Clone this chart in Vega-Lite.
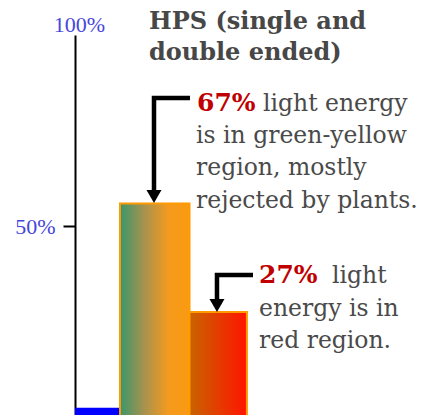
{
  "$schema": "https://vega.github.io/schema/vega-lite/v6.json",
  "width": 348,
  "height": 382,
  "autosize": "none",
  "padding": {"left": 75, "top": 35, "right": 0, "bottom": 0},
  "background": "white",
  "view": {"stroke": null},
  "config": {"text": {"font": "DejaVu Serif"}},
  "datasets": {
    "bars": [
      {"band": "blue", "x0": 0, "x1": 12.93, "pct": 2.4},
      {"band": "green-yellow", "x0": 12.93, "x1": 32.9, "pct": 55.9},
      {"band": "red", "x0": 32.9, "x1": 49.4, "pct": 27.5}
    ],
    "arrows": [
      {"arrow": "a1", "i": 0, "x": 33.05, "y": 83.5},
      {"arrow": "a1", "i": 1, "x": 22.7, "y": 83.5},
      {"arrow": "a1", "i": 2, "x": 22.7, "y": 59.4},
      {"arrow": "a2", "i": 0, "x": 51.15, "y": 37.17},
      {"arrow": "a2", "i": 1, "x": 40.8, "y": 37.17},
      {"arrow": "a2", "i": 2, "x": 40.8, "y": 30.6}
    ],
    "heads": [
      {"arrow": "a1", "x": 22.7, "y": 57.7},
      {"arrow": "a2", "x": 40.8, "y": 29.2}
    ],
    "titles": [
      {"t": "HPS (single and\ndouble ended)", "x": 21.26, "y": 101.6}
    ],
    "pcts": [
      {"t": "67%", "x": 35.06, "y": 80.1},
      {"t": "27%", "x": 52.87, "y": 35.08}
    ],
    "body": [
      {"t": "light energy", "x": 54.0, "y": 80.1},
      {"t": "is in green-yellow\nregion, mostly\nrejected by plants.", "x": 34.77, "y": 71.73},
      {"t": "light", "x": 73.85, "y": 35.08},
      {"t": "energy is in\nred region.", "x": 52.87, "y": 26.44}
    ],
    "top": [
      {"t": "100%", "x": 0, "y": 100}
    ]
  },
  "layer": [
    {
      "data": {"name": "bars"},
      "transform": [{"filter": "datum.band === 'blue'"}],
      "mark": {"type": "rect", "fill": "#0000ff"},
      "encoding": {
        "x": {"field": "x0", "type": "quantitative", "scale": {"domain": [0, 100], "nice": false}, "axis": null},
        "x2": {"field": "x1"},
        "y": {"field": "pct", "type": "quantitative", "scale": {"domain": [0, 100], "nice": false},
          "axis": {"values": [50], "labelExpr": "datum.value + '%'", "labelFont": "Liberation Serif", "labelFontSize": 22,
            "labelColor": "#4646dc", "labelPadding": 8, "tickSize": 12, "tickColor": "black", "tickWidth": 2,
            "domainColor": "black", "domainWidth": 2, "grid": false, "title": null}},
        "y2": {"datum": 0}
      }
    },
    {
      "data": {"name": "bars"},
      "transform": [{"filter": "datum.band === 'green-yellow'"}],
      "mark": {"type": "rect", "stroke": "#ff9a00", "strokeWidth": 2,
        "fill": {"gradient": "linear", "x1": 0, "y1": 0, "x2": 1, "y2": 0,
          "stops": [{"offset": 0, "color": "#3a976c"}, {"offset": 0.35, "color": "#a8924e"}, {"offset": 0.7, "color": "#f59a1e"}, {"offset": 1, "color": "#fa9a10"}]}},
      "encoding": {
        "x": {"field": "x0", "type": "quantitative", "scale": {"domain": [0, 100], "nice": false}, "axis": null},
        "x2": {"field": "x1"},
        "y": {"field": "pct", "type": "quantitative", "scale": {"domain": [0, 100], "nice": false}},
        "y2": {"datum": 0}
      }
    },
    {
      "data": {"name": "bars"},
      "transform": [{"filter": "datum.band === 'red'"}],
      "mark": {"type": "rect", "stroke": "#ff9a00", "strokeWidth": 2,
        "fill": {"gradient": "linear", "x1": 0, "y1": 0, "x2": 1, "y2": 0,
          "stops": [{"offset": 0, "color": "#c86400"}, {"offset": 1, "color": "#ff1400"}]}},
      "encoding": {
        "x": {"field": "x0", "type": "quantitative", "scale": {"domain": [0, 100], "nice": false}, "axis": null},
        "x2": {"field": "x1"},
        "y": {"field": "pct", "type": "quantitative", "scale": {"domain": [0, 100], "nice": false}},
        "y2": {"datum": 0}
      }
    },
    {
      "data": {"name": "arrows"},
      "mark": {"type": "line", "color": "black", "strokeWidth": 4.5, "strokeJoin": "miter"},
      "encoding": {
        "x": {"field": "x", "type": "quantitative", "scale": {"domain": [0, 100], "nice": false}, "axis": null},
        "y": {"field": "y", "type": "quantitative", "scale": {"domain": [0, 100], "nice": false}},
        "detail": {"field": "arrow"},
        "order": {"field": "i"}
      }
    },
    {
      "data": {"name": "heads"},
      "mark": {"type": "point", "shape": "triangle-down", "filled": true, "color": "black", "opacity": 1, "size": 225},
      "encoding": {
        "x": {"field": "x", "type": "quantitative", "scale": {"domain": [0, 100], "nice": false}, "axis": null},
        "y": {"field": "y", "type": "quantitative", "scale": {"domain": [0, 100], "nice": false}}
      }
    },
    {
      "data": {"name": "titles"},
      "mark": {"type": "text", "align": "left", "baseline": "alphabetic", "fontSize": 24, "fontWeight": "bold", "color": "#474747", "lineBreak": "\n", "lineHeight": 31},
      "encoding": {
        "x": {"field": "x", "type": "quantitative", "scale": {"domain": [0, 100], "nice": false}, "axis": null},
        "y": {"field": "y", "type": "quantitative", "scale": {"domain": [0, 100], "nice": false}},
        "text": {"field": "t"}
      }
    },
    {
      "data": {"name": "pcts"},
      "mark": {"type": "text", "align": "left", "baseline": "alphabetic", "fontSize": 25, "fontWeight": "bold", "color": "#c00000"},
      "encoding": {
        "x": {"field": "x", "type": "quantitative", "scale": {"domain": [0, 100], "nice": false}, "axis": null},
        "y": {"field": "y", "type": "quantitative", "scale": {"domain": [0, 100], "nice": false}},
        "text": {"field": "t"}
      }
    },
    {
      "data": {"name": "body"},
      "mark": {"type": "text", "align": "left", "baseline": "alphabetic", "fontSize": 23.5, "color": "#4a4a4a", "lineBreak": "\n", "lineHeight": 32.5},
      "encoding": {
        "x": {"field": "x", "type": "quantitative", "scale": {"domain": [0, 100], "nice": false}, "axis": null},
        "y": {"field": "y", "type": "quantitative", "scale": {"domain": [0, 100], "nice": false}},
        "text": {"field": "t"}
      }
    },
    {
      "data": {"name": "top"},
      "mark": {"type": "text", "align": "center", "baseline": "alphabetic", "dx": 4.5, "dy": -3, "font": "Liberation Serif", "fontSize": 22, "color": "#4646dc"},
      "encoding": {
        "x": {"field": "x", "type": "quantitative", "scale": {"domain": [0, 100], "nice": false}, "axis": null},
        "y": {"field": "y", "type": "quantitative", "scale": {"domain": [0, 100], "nice": false}},
        "text": {"field": "t"}
      }
    }
  ]
}
